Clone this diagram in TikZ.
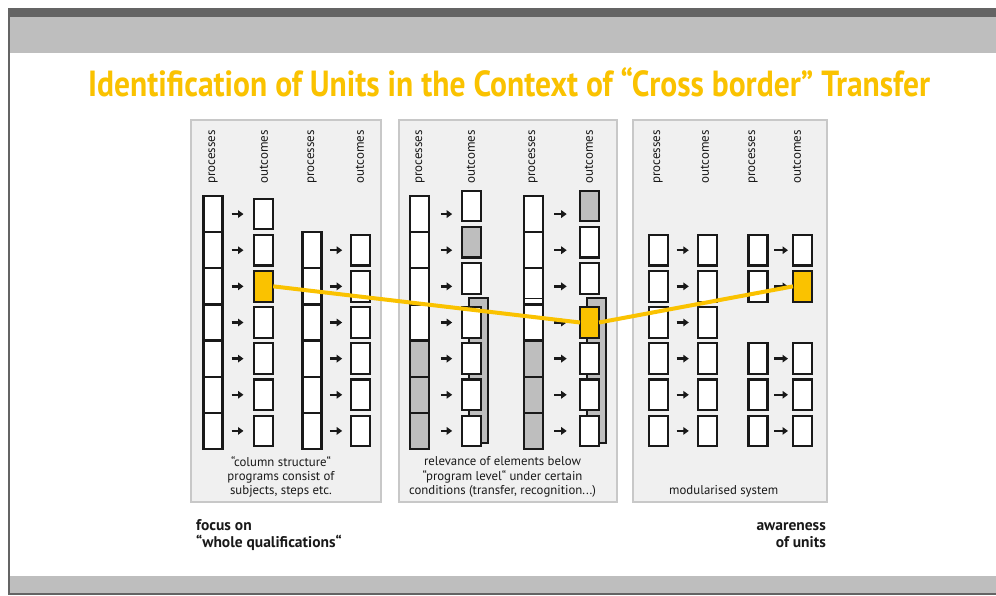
\documentclass[tikz,border=0pt]{standalone}
\usepackage{fontspec}
\setmainfont{PT Sans}
\usetikzlibrary{arrows.meta}
\definecolor{ylw}{RGB}{250,194,0}
\definecolor{boxgray}{RGB}{190,190,190}
\definecolor{panelfill}{RGB}{240,240,240}
\definecolor{panelline}{RGB}{200,200,200}
\definecolor{bandDark}{RGB}{100,100,100}
\definecolor{bandLight}{RGB}{190,190,190}
\definecolor{ink}{RGB}{25,25,25}
\begin{document}
\begin{tikzpicture}[x=1pt,y=-1pt,
  panel/.style={draw=panelline, fill=panelfill, line width=1.5pt, inner sep=0pt, outer sep=0pt},
  cell/.style={draw=ink, line width=2.2pt, fill=white, minimum width=19pt, minimum height=36.14pt, inner sep=0pt, outer sep=0pt},
  obox/.style={draw=ink, line width=2.2pt, fill=white, minimum width=19pt, minimum height=30.5pt, inner sep=0pt, outer sep=0pt},
  hdr/.style={rotate=90, anchor=east, inner sep=0pt, text=ink, font=\fontsize{13}{14}\selectfont},
  arr/.style={draw=ink, line width=2.3pt, -{Triangle[length=5.5pt,width=7.5pt]}},
  captxt/.style={align=center, text=ink, font=\fontsize{12.8}{14.3}\selectfont, inner sep=0pt},
  lbl/.style={text=ink, font=\fontsize{15.5}{17}\selectfont\bfseries, inner sep=0pt},
  link/.style={draw=ylw, line width=4pt}
]
\useasboundingbox (0,0) rectangle (996,595);
\fill[white] (0,0) rectangle (996,595);
% frame bands
\fill[bandDark] (8,8) rectangle (996,17);
\fill[bandLight] (10,17) rectangle (996,53);
\fill[bandDark] (8,8) rectangle (10,595);
\fill[bandLight] (10,576) rectangle (996,593);
\fill[bandDark] (8,593) rectangle (996,595);

% title
\node[anchor=base west, inner sep=0pt, text=ylw] (title) at (88,96)
  {\resizebox{842pt}{29pt}{\bfseries Identification of Units in the Context of “Cross border” Transfer}};

% panels
\node[panel, minimum width=190pt, minimum height=382pt] (pL) at (286,311) {};
\node[panel, minimum width=218pt, minimum height=382pt] (pM) at (508,311) {};
\node[panel, minimum width=194pt, minimum height=382pt] (pR) at (730,311) {};

% headers
\foreach \n/\x/\t in {L1/213/processes, L2/264/outcomes, L3/312/processes, L4/360/outcomes,
                       M1/420/processes, M2/471/outcomes, M3/533/processes, M4/589/outcomes,
                       R1/658/processes, R2/705/outcomes, R3/753/processes, R4/797/outcomes}
  \node[hdr] (h\n) at (\x,130) {\t};

% ---------- left panel ----------
\foreach \r in {1,...,7}
  \node[cell] (LP1r\r) at (213,{196+36.14*(\r-0.5)}) {};
\foreach \r/\f in {1/white,2/white,3/ylw,4/white,5/white,6/white,7/white}
  \node[obox, fill=\f] (LO1r\r) at (263.7,{196+36.14*(\r-0.5)}) {};
\foreach \r in {2,...,7}
  \node[cell] (LP2r\r) at (312,{196+36.14*(\r-0.5)}) {};
\foreach \r in {2,...,7}
  \node[obox] (LO2r\r) at (360.7,{196+36.14*(\r-0.5)}) {};
\foreach \r in {1,...,7}
  \draw[arr, shorten <=9pt, shorten >=10.7pt] (LP1r\r.east) -- (LP1r\r.east -| LO1r\r.west);
\foreach \r in {2,...,7}
  \draw[arr, shorten <=8.3pt, shorten >=9pt] (LP2r\r.east) -- (LP2r\r.east -| LO2r\r.west);

% ---------- middle panel ----------
\foreach \r/\f in {1/white,2/white,3/white,4/white,5/boxgray,6/boxgray,7/boxgray}
  \node[cell, fill=\f] (MP1r\r) at (419.7,{196+36.14*(\r-0.5)}) {};
\foreach \r/\f in {1/white,2/white,3/white,4/white,5/boxgray,6/boxgray,7/boxgray}
  \node[cell, fill=\f] (MP2r\r) at (533.7,{196+36.14*(\r-0.5)}) {};
\draw[ink, line width=1.6pt] ([yshift=6pt]MP2r4.north west) -- ([yshift=6pt]MP2r4.north east);
\node[obox, fill=boxgray, minimum height=145pt] (MB1) at (478.5,370.5) {};
\node[obox, fill=boxgray, minimum height=145pt] (MB2) at (596.2,370.5) {};
\foreach \r/\f/\d in {1/white/8,2/boxgray/8,3/white/8,4/white/0,5/white/0,6/white/0,7/white/0}
  \node[obox, fill=\f] (MO1r\r) at (471.7,{196+36.14*(\r-0.5)-\d}) {};
\foreach \r/\f/\d in {1/boxgray/8,2/white/8,3/white/8,4/ylw/0,5/white/0,6/white/0,7/white/0}
  \node[obox, fill=\f] (MO2r\r) at (589.5,{196+36.14*(\r-0.5)-\d}) {};
\foreach \r in {1,...,7}
  \draw[arr, shorten <=11.7pt, shorten >=10pt] (MP1r\r.east) -- (MP1r\r.east -| MO1r\r.west);
\foreach \r in {1,...,7}
  \draw[arr, shorten <=11pt, shorten >=13.3pt] (MP2r\r.east) -- (MP2r\r.east -| MO2r\r.west);

% ---------- right panel ----------
\foreach \r in {2,...,7}
  \node[obox] (RP1r\r) at (658.7,{196+36.14*(\r-0.5)}) {};
\foreach \r in {2,...,7}
  \node[obox] (RO1r\r) at (707.7,{196+36.14*(\r-0.5)}) {};
\foreach \r in {2,3,5,6,7}
  \node[obox] (RP2r\r) at (758,{196+36.14*(\r-0.5)}) {};
\foreach \r/\f in {2/white,3/ylw,5/white,6/white,7/white}
  \node[obox, fill=\f] (RO2r\r) at (802.5,{196+36.14*(\r-0.5)}) {};
\foreach \r in {2,...,7}
  \draw[arr, shorten <=8.4pt, shorten >=9.4pt] (RP1r\r.east) -- (RP1r\r.east -| RO1r\r.west);
\foreach \r in {2,3,5,6,7}
  \draw[arr, shorten <=6.7pt, shorten >=5pt] (RP2r\r.east) -- (RP2r\r.east -| RO2r\r.west);

% yellow link
\draw[link] (LO1r3.east) -- (MO2r4.west);
\draw[link] (MO2r4.east) -- (RO2r3.west);

% captions
\node[captxt] (Lcap) at (281,477) {“column structure“\\programs consist of\\subjects, steps etc.};
\node[captxt] (Mcap) at (502.5,477) {relevance of elements below\\“program level“ under certain\\conditions (transfer, recognition...)};
\node[captxt] (Rcap) at (723.7,491) {modularised system};

% bottom labels
\node[lbl, anchor=west, align=left] (focus) at (196,535) {focus on\\“whole qualifications“};
\node[lbl, anchor=east, align=right] (aware) at (826,535) {awareness\\of units};
\end{tikzpicture}
\end{document}
